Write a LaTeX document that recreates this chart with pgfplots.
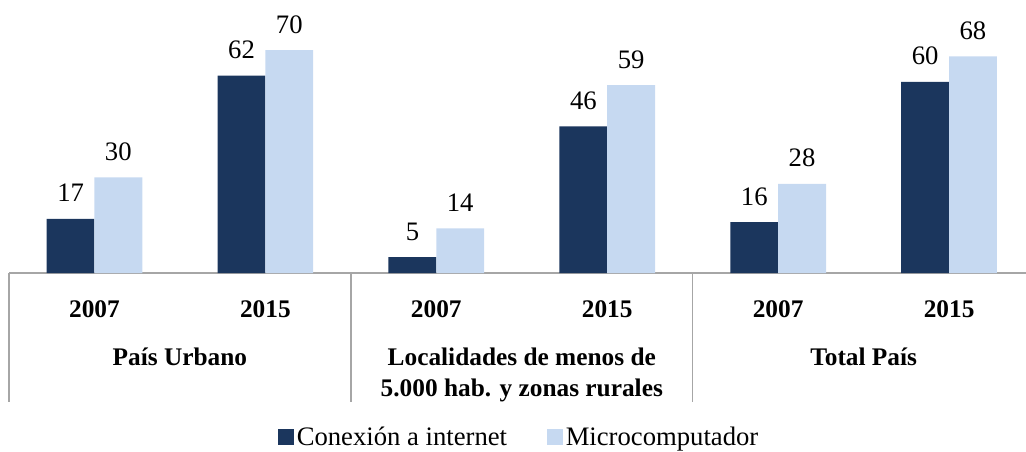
\documentclass[border=0pt]{standalone}
\usepackage{pgfplots}
\pgfplotsset{compat=1.18}
\usepackage{fontspec}
\setmainfont{Liberation Serif}
\definecolor{darkb}{HTML}{1B365D}
\definecolor{lightb}{HTML}{C6D9F1}
\definecolor{axgray}{HTML}{A6A6A6}
\begin{document}
\begin{tikzpicture}
\path[use as bounding box] (0,0) rectangle (769.5pt,338.25pt);
\begin{axis}[
  at={(6.75pt,133.5pt)}, anchor=south west,
  scale only axis, width=762.75pt, height=204.75pt,
  xmin=-0.5, xmax=5.45, ymin=0, ymax=85.7,
  axis y line=none,
  axis x line*=bottom,
  x axis line style={axgray, line width=1pt, -},
  xtick={0,1,2,3,4,5},
  xticklabels={2007,2015,2007,2015,2007,2015},
  major tick length=0pt,
  /pgf/number format/assume math mode=true,
  xticklabel style={font=\bfseries\fontsize{19}{22}\selectfont, anchor=base, yshift=-33pt},
  clip=false,
  legend style={at={(0.502,-0.6)}, anchor=center, draw=none, fill=none,
    legend columns=2, font=\fontsize{20}{24}\selectfont,
    /tikz/every even column/.append style={column sep=28pt}},
  legend image code/.code={\fill[#1] (0pt,-6pt) rectangle (12pt,6pt);},
]
\addplot[ybar, bar width=0.28, bar shift=-0.14, fill=darkb, draw=none,
  nodes near coords,
  every node near coord/.append style={font=\fontsize{20}{24}\selectfont, anchor=base, yshift=12.75pt, xshift=-17.9pt, black}]
  coordinates {(0,17) (1,62) (2,5) (3,46) (4,16) (5,60)};
\addlegendentry{Conexión a internet}
\addplot[ybar, bar width=0.28, bar shift=0.14, fill=lightb, draw=none,
  nodes near coords,
  every node near coord/.append style={font=\fontsize{20}{24}\selectfont, anchor=base, yshift=12.75pt, xshift=17.9pt, black}]
  coordinates {(0,30) (1,70) (2,14) (3,59) (4,28) (5,68)};
\addlegendentry{Microcomputador}
\draw[axgray, line width=1pt] (axis cs:-0.5,0) -- ++(0pt,-96.75pt);
\draw[axgray, line width=1pt] (axis cs:1.5,0) -- ++(0pt,-96.75pt);
\draw[axgray, line width=1pt] (axis cs:3.5,0) -- ++(0pt,-96.75pt);
\node[anchor=base, font=\bfseries\fontsize{19}{22}\selectfont, yshift=-69pt] at (axis cs:0.5,0) {País Urbano};
\node[anchor=base, font=\bfseries\fontsize{19}{22}\selectfont, yshift=-69pt] at (axis cs:2.5,0) {Localidades de menos de};
\node[anchor=base, font=\bfseries\fontsize{19}{22}\selectfont, yshift=-92.25pt] at (axis cs:2.5,0) {5.000 hab. y zonas rurales};
\node[anchor=base, font=\bfseries\fontsize{19}{22}\selectfont, yshift=-69pt] at (axis cs:4.5,0) {Total País};
\end{axis}
\end{tikzpicture}
\end{document}
